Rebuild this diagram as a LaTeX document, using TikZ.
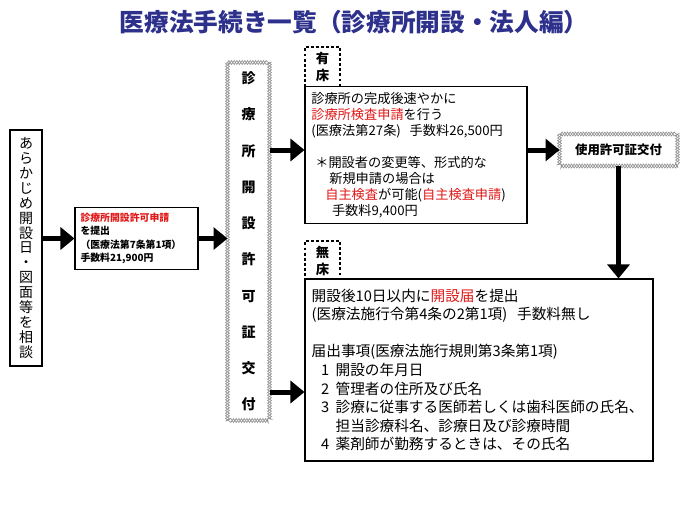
\documentclass[tikz,border=0pt]{standalone}
\usepackage{fontspec}
\setmainfont{Noto Sans CJK JP}
\usetikzlibrary{arrows.meta,decorations.pathmorphing}

\definecolor{akared}{RGB}{225,25,25}
\definecolor{titlenavy}{RGB}{46,49,140}
\definecolor{zzgray}{RGB}{140,140,140}

\newcommand{\aka}[1]{\textcolor{akared}{#1}}
\newcommand{\koumoku}[1]{\hspace*{7pt}\makebox[11pt][l]{#1}}
\newcommand{\tatetwo}[2]{\vbox{\baselineskip=12.5pt\hbox to 12pt{\hss#1\hss}\hbox to 12pt{\hss#2\hss}}}

\tikzset{
	box/.style={draw, line width=0.8pt, inner sep=4pt, align=left},
	tag/.style={draw, line width=1.3pt, dash pattern=on 2.2pt off 1.6pt, minimum width=26.25pt, minimum height=30pt, inner sep=0pt, font=\fontsize{10}{12.5}\selectfont\bfseries},
	zz/.style={draw=zzgray, line width=0.5pt, decorate, decoration={zigzag, segment length=4pt, amplitude=1.5pt}},
	zzm/.style={draw=zzgray, line width=0.5pt, decorate, decoration={zigzag, segment length=4pt, amplitude=1.5pt, mirror}},
	arr/.style={line width=3.75pt, -{Triangle[length=10.5pt,width=16.5pt]}}}
\tikzset{every picture/.style={line width=0.75pt}}

\begin{document}
\begin{tikzpicture}[x=0.75pt,y=0.75pt,yscale=-1,xscale=1]
	\useasboundingbox (0,0) rectangle (700,525);

	% Title
	\node[text=titlenavy, font=\fontsize{18.5}{20}\selectfont\bfseries] (title) at (354,22) {医療法手続き一覧（診療所開設・法人編）};

	% Left box
	\node[box, align=center, minimum width=24pt, minimum height=177pt, inner sep=0pt, font=\fontsize{10.5}{11.2}\selectfont] (consult) at (26,248) {あ\\ら\\か\\じ\\め\\開\\設\\日\\・\\図\\面\\等\\を\\相\\談};

	% Application box
	\node[box, minimum width=92.25pt, minimum height=44.25pt, text width=84pt, font=\fontsize{7.4}{10}\selectfont\bfseries] (apply) at (136.5,238.5) {\aka{診療所開設許可申請}\\を提出\\（医療法第7条第1項）\\手数料21,900円};

	% Permit (zigzag border)
	\node[minimum width=30.75pt, minimum height=267.75pt, inner sep=0pt, align=center, font=\fontsize{10.5}{27.2}\selectfont\bfseries] (permit) at (248.5,241.5) {診\\療\\所\\開\\設\\許\\可\\証\\交\\付};
	\draw[zz] (permit.north west) rectangle (permit.south east);
	\draw[zzm] (permit.north west) rectangle (permit.south east);

	% With beds
	\node[tag] (tagA) at (322.5,67) {\tatetwo{有}{床}};
	\node[box, fill=white, minimum width=166.5pt, minimum height=102pt, text width=157pt, font=\fontsize{9.9}{12}\selectfont] (withbed) at (416,155) {診療所の完成後速やかに\\
\aka{診療所検査申請}を行う\\
(医療法第27条)\ \ 手数料26,500円\\[12pt]
\hspace*{3pt}＊開設者の変更等、形式的な\\
\hspace*{13.5pt}新規申請の場合は\\
\hspace*{10.5pt}\aka{自主検査}が可能(\aka{自主検査申請})\\
\hspace*{15.5pt}手数料9,400円};

	% License (zigzag border)
	\node[minimum width=87.75pt, minimum height=23.25pt, inner sep=0pt, font=\fontsize{9.3}{11}\selectfont\bfseries] (license) at (618.5,150) {使用許可証交付};
	\draw[zz] (license.north west) rectangle (license.south east);
	\draw[zzm] (license.north west) rectangle (license.south east);

	% Without beds
	\node[tag] (tagB) at (322.5,261) {\tatetwo{無}{床}};
	\node[box, fill=white, minimum width=261pt, minimum height=136.5pt, text width=251pt, font=\fontsize{11}{13.9}\selectfont] (nobed) at (479,370) {開設後10日以内に\aka{開設届}を提出\\
(医療法施行令第4条の2第1項)\ \ 手数料無し\\[13.9pt]
届出事項(医療法施行規則第3条第1項)\\
\koumoku{1}開設の年月日\\
\koumoku{2}管理者の住所及び氏名\\
\koumoku{3}診療に従事する医師若しくは歯科医師の氏名、\\
\hspace*{18pt}担当診療科名、診療日及び診療時間\\
\koumoku{4}薬剤師が勤務するときは、その氏名};

	% Arrows
	\draw[arr] (apply.west -| consult.east) -- (apply.west);
	\draw[arr] (apply.east) -- (apply.east -| permit.west);
	\draw[arr] (permit.east |- 0,150) -- (withbed.west |- 0,150);
	\draw[arr] (permit.east |- 0,392) -- (nobed.west |- 0,392);
	\draw[arr] (withbed.east |- license.west) -- (license.west);
	\draw[arr] (license.south) -- (license.south |- nobed.north);

\end{tikzpicture}
\end{document}
